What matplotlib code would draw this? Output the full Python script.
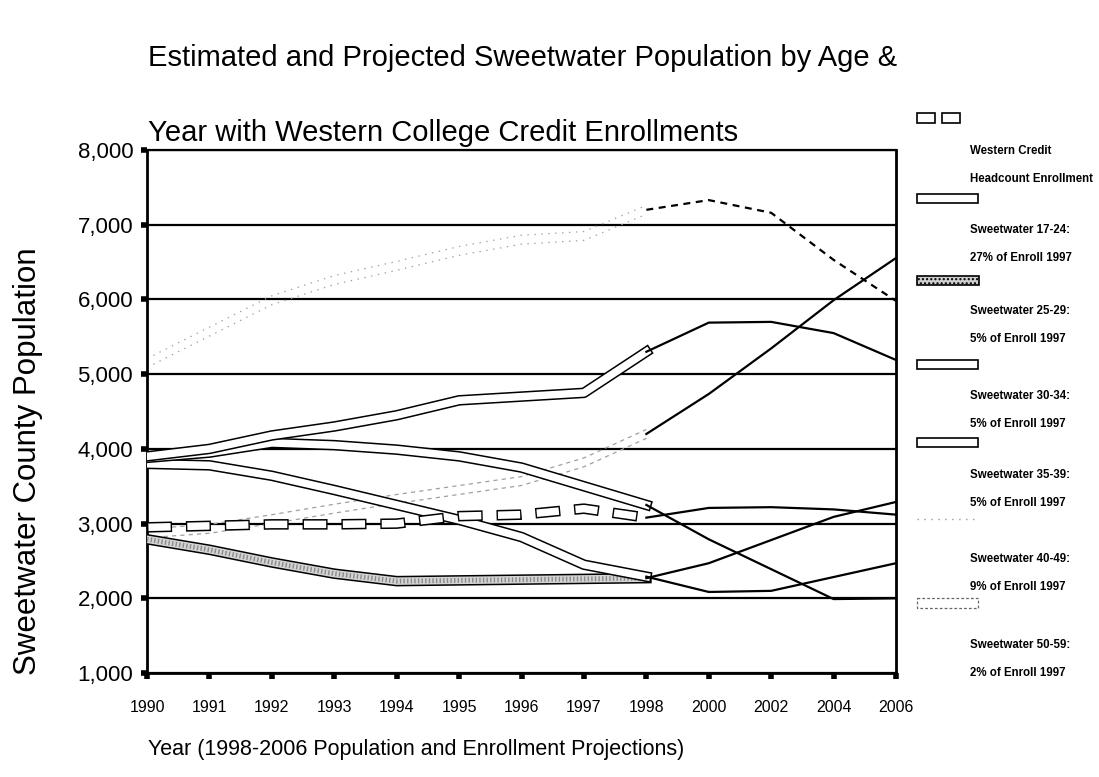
import matplotlib
matplotlib.use("Agg")
from matplotlib import pyplot as plt
import matplotlib.patches as patches
import matplotlib.patheffects as pe
from matplotlib.transforms import offset_copy
import numpy as np

plt.rcParams['font.family'] = ['Liberation Sans', 'DejaVu Sans']
plt.rcParams['lines.scale_dashes'] = False

# Category axis (1998 onward is projection)
years = ['1990', '1991', '1992', '1993', '1994', '1995', '1996', '1997',
         '1998', '2000', '2002', '2004', '2006']

# Estimated values 1990-1998 (drawn as ribbons)
credit_hist = [2950, 2970, 2990, 2990, 3000, 3100, 3120, 3200, 3080]
age_17_24_hist = [3900, 4000, 4180, 4300, 4450, 4650, 4700, 4750, 5300]
age_25_29_hist = [2790, 2650, 2480, 2330, 2230, 2240, 2250, 2260, 2270]
age_30_34_hist = [3880, 3950, 4080, 4050, 3990, 3900, 3750, 3500, 3250]
age_35_39_hist = [3800, 3780, 3640, 3450, 3250, 3050, 2820, 2450, 2290]
age_40_49_hist = [5150, 5570, 5990, 6260, 6450, 6650, 6800, 6850, 7200]
age_50_59_hist = [2870, 2930, 3060, 3200, 3330, 3450, 3570, 3820, 4200]

# Projected values 1998-2006 (thin lines)
credit_proj = [3080, 3210, 3220, 3190, 3120]
age_17_24_proj = [5300, 5690, 5700, 5550, 5190]
age_25_29_proj = [2270, 2470, 2780, 3090, 3290]
age_30_34_proj = [3250, 2790, 2390, 1990, 2000]
age_35_39_proj = [2290, 2085, 2100, 2285, 2470]
age_40_49_proj = [7200, 7330, 7160, 6530, 5980]
age_50_59_proj = [4200, 4735, 5345, 5990, 6555]

legend_names = ["Western Credit\nHeadcount Enrollment",
                "Sweetwater 17-24:\n27% of Enroll 1997",
                "Sweetwater 25-29:\n5% of Enroll 1997",
                "Sweetwater 30-34:\n5% of Enroll 1997",
                "Sweetwater 35-39:\n5% of Enroll 1997",
                "Sweetwater 40-49:\n9% of Enroll 1997",
                "Sweetwater 50-59:\n2% of Enroll 1997"]

fig = plt.figure(figsize=(10.99, 7.77), dpi=100)
ax = fig.add_axes([0.1338, 0.1338, 0.6815, 0.6731])

x_hist = np.arange(9)
x_proj = np.arange(8, 13)


def ribbon(y, face, z):
    """White/grey band with a black outline"""
    ax.plot(x_hist, y, color=face, lw=5.4, solid_capstyle='projecting',
            solid_joinstyle='round', zorder=z,
            path_effects=[pe.Stroke(linewidth=7.6, foreground='black'), pe.Normal()])


def faint_band(y, ls, z):
    """Two faint parallel lines"""
    for off in (-3.2, 3.2):
        tr = offset_copy(ax.transData, fig=fig, x=0, y=off, units='points')
        ax.plot(x_hist, y, color='#a0a0a0', lw=0.9, ls=ls, transform=tr, zorder=z)


# Ribbons for the estimated years
ribbon(age_25_29_hist, '#d4d4d4', 3)
ax.plot(x_hist, age_25_29_hist, color='#8a8a8a', lw=3.5, ls=(0, (1, 1.6)), zorder=3.1)
ribbon(age_35_39_hist, 'white', 4)
ribbon(age_30_34_hist, 'white', 5)
ribbon(age_17_24_hist, 'white', 6)
faint_band(age_50_59_hist, (0, (3, 3)), 2)
faint_band(age_40_49_hist, (0, (1, 4)), 2)

# box dashes for enrollment
ax.plot(x_hist, credit_hist, color='black', lw=7.6, ls=(0, (18, 10)),
        dash_capstyle='butt', zorder=7)
ax.plot(x_hist, credit_hist, color='white', lw=5.4, ls=(27, (16, 12)),
        dash_capstyle='butt', zorder=7.1)

# Projection lines
for vals in [credit_proj, age_17_24_proj, age_25_29_proj, age_30_34_proj,
             age_35_39_proj, age_50_59_proj]:
    ax.plot(x_proj, vals, color='black', lw=1.6, zorder=8)
ax.plot(x_proj, age_40_49_proj, color='black', lw=1.6, ls=(0, (5, 4)), zorder=8)

# Axes setup
ax.set_xlim(0, 12)
ax.set_ylim(1000, 8000)
ax.set_xticks(np.arange(13))
ax.set_xticklabels(years)
ax.set_yticks(np.arange(1000, 8001, 1000))
ax.set_yticklabels(["{:,}".format(v) for v in range(1000, 8001, 1000)])
ax.grid(axis='y', color='black', lw=1.6)
ax.set_axisbelow(True)
for s in ['left', 'bottom', 'right']:
    ax.spines[s].set_linewidth(2)
ax.spines['top'].set_linewidth(1.6)
ax.tick_params(axis='x', length=4.5, width=4, pad=15, labelsize=11.5)
ax.tick_params(axis='y', length=4, width=4, pad=6, labelsize=16)

# Overlay in pixel coordinates for titles and legend
ov = fig.add_axes([0, 0, 1, 1])
ov.set_xlim(0, 1099)
ov.set_ylim(777, 0)
ov.axis('off')
ov.patch.set_visible(False)

ov.text(148, 58, "Estimated and Projected Sweetwater Population by Age &",
        fontsize=21, va='center', ha='left')
ov.text(148, 133, "Year with Western College Credit Enrollments",
        fontsize=21, va='center', ha='left')
ov.text(28, 461, "Sweetwater County Population", fontsize=22.5, rotation=90,
        va='center', ha='center')
ov.text(148, 750, "Year (1998-2006 Population and Enrollment Projections)",
        fontsize=15.5, va='center', ha='left')

# Legend
text_y = [151, 230, 311, 396, 475, 559, 645]
for name, ty in zip(legend_names, text_y):
    l1, l2 = name.split("\n")
    ov.text(970, ty, l1, fontsize=8.3, fontweight='bold', va='center', ha='left')
    ov.text(970, ty + 28, l2, fontsize=8.3, fontweight='bold', va='center', ha='left')

box_kw = dict(facecolor='white', edgecolor='black', lw=1.2)
ov.add_patch(patches.Rectangle((917, 113), 18, 10, **box_kw))
ov.add_patch(patches.Rectangle((942, 113), 18, 10, **box_kw))
ov.add_patch(patches.Rectangle((917, 194), 61, 9, **box_kw))
ov.add_patch(patches.Rectangle((917, 276), 62, 9, facecolor='#cfcfcf', edgecolor='black',
                               lw=1.2, hatch='....'))
ov.add_patch(patches.Rectangle((917, 360), 61, 9, **box_kw))
ov.add_patch(patches.Rectangle((917, 438), 61, 9, **box_kw))
ov.plot([917, 978], [519, 519], color='#9a9a9a', lw=1, ls=(0, (1, 4)))
ov.add_patch(patches.Rectangle((917, 598), 61, 10, facecolor='white', edgecolor='#666666',
                               lw=0.9, ls=(0, (2, 1.5))))

fig.savefig("out.png", dpi=100)
